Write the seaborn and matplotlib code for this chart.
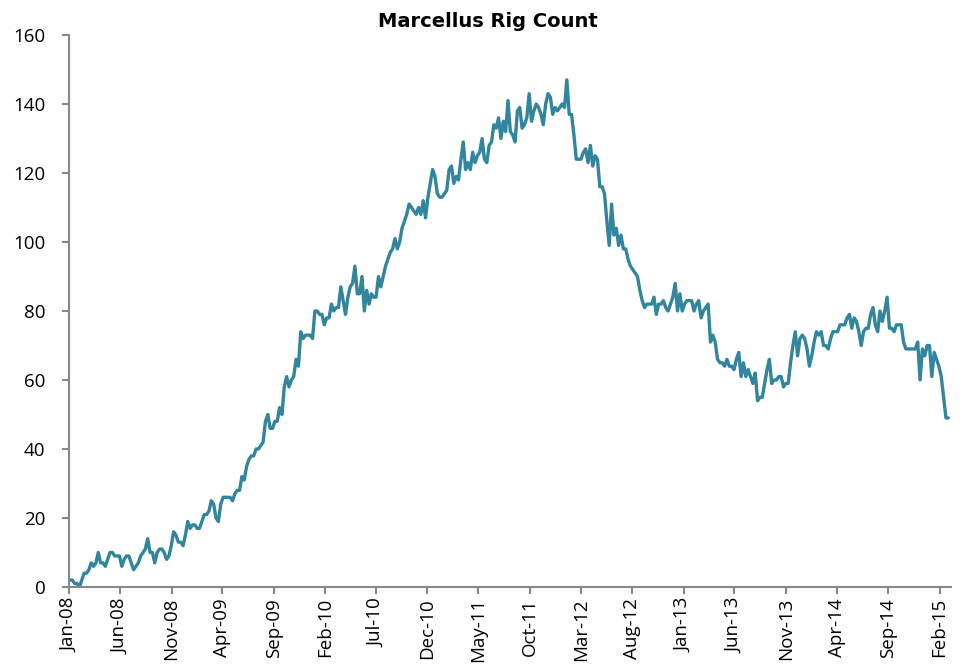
import pandas as pd
import matplotlib
matplotlib.use("Agg")
import matplotlib.pyplot as plt
import matplotlib.dates as mdates
import seaborn as sns

# Weekly Marcellus rig count (first week of Jan-08 onward)
start_date = "2008-01-04"
rig_count = [
    2, 2, 1, 1, 0, 2, 4, 4, 5, 7, 6, 7, 10,
    7, 7, 6, 8, 10, 10, 9, 9, 9, 6, 8, 9, 9,
    7, 5, 6, 7, 9, 10, 11, 14, 10, 10, 7, 10, 11,
    11, 10, 8, 9, 12, 16, 15, 13, 13, 12, 15, 19, 17,
    18, 18, 17, 17, 19, 21, 21, 22, 25, 24, 20, 19, 24,
    26, 26, 26, 26, 25, 27, 28, 28, 32, 31, 35, 37, 38,
    38, 40, 40, 41, 42, 48, 50, 46, 46, 48, 48, 52, 50,
    58, 61, 58, 60, 61, 66, 64,
    74, 72, 73, 73, 73, 72, 80, 80, 79, 79, 76, 78, 78,
    82, 80, 81, 81, 87, 83, 79, 84, 87, 88, 93, 85, 85,
    90, 80, 86, 82, 85, 84, 84, 90, 87, 90, 93, 95, 97,
    98, 101, 98, 100, 104, 106, 108, 111, 110, 109, 108, 110, 108,
    112, 107, 113, 117, 121, 119, 114, 113, 113, 114, 115, 121, 122,
    117, 119, 118, 124, 129, 121, 123, 121, 126, 123, 125, 126, 130,
    124, 123, 128, 129, 134, 133, 136, 130, 135, 132, 141, 132, 131,
    129, 138, 139, 133, 134, 136, 143, 135, 138, 140, 139, 137, 134,
    140, 143, 142, 137, 139, 138, 139, 140, 139, 147, 137, 137, 131,
    124, 124, 124, 126, 127, 123, 128, 122, 125, 124, 116, 116, 114,
    106, 99, 111, 102, 104, 99, 102, 98, 98, 95,
    93, 92, 91, 90, 86, 83, 81, 82, 82, 82, 84, 79, 82,
    82, 83, 81, 80, 82, 84, 88, 80, 85, 80, 82, 83, 83,
    83, 80, 82, 83, 78, 80, 81, 82, 71, 73, 71, 66, 65,
    65, 64, 66, 64, 64, 63, 66, 68, 61, 65, 61, 63, 61,
    59, 62, 54, 55, 55, 59, 63, 66, 59, 60, 60, 61, 61,
    58, 59, 59, 65, 70, 74, 67, 72, 73, 72, 69, 64, 67,
    71, 74, 73, 74, 70, 70, 69, 72, 74, 74, 74, 76, 76,
    76, 78, 79, 75, 78, 77, 74, 70, 74, 75, 75, 79, 81,
    76, 74, 80, 77, 80, 84, 75, 75, 74, 76, 76, 76, 71,
    69, 69, 69, 69, 69, 71, 60, 69, 67, 70, 70, 61, 68,
    66, 64, 61, 55, 49, 49,
]
y_ticks = [0, 20, 40, 60, 80, 100, 120, 140, 160]
chart_title = "Marcellus Rig Count"

df = pd.DataFrame({
    "Date": pd.date_range(start=start_date, periods=len(rig_count), freq="7D"),
    "Rigs": rig_count,
})

sns.set_style("ticks")
plt.rcParams["font.family"] = ["Open Sans", "DejaVu Sans"]
plt.rcParams["text.color"] = "black"

fig = plt.figure(figsize=(9.66, 6.64), dpi=100)
ax = fig.add_axes([69 / 966, 1 - 587 / 664, (951 - 69) / 966, (587 - 35) / 664])

sns.lineplot(data=df, x="Date", y="Rigs", ax=ax, color="#31859C", linewidth=2.4)

ax.set_xlim(pd.Timestamp("2008-01-01"), pd.Timestamp("2015-03-07"))
ax.set_ylim(0, 160)
ax.set_yticks(y_ticks)
tick_dates = pd.date_range("2008-01-01", "2015-02-01", freq="5MS")
ax.set_xticks(tick_dates)
ax.xaxis.set_major_formatter(mdates.DateFormatter("%b-%y"))
ax.set_xlabel("")
ax.set_ylabel("")

sns.despine(ax=ax)
for side in ["left", "bottom"]:
    ax.spines[side].set_color("#888888")
    ax.spines[side].set_linewidth(1.5)
ax.tick_params(axis="y", direction="out", length=5, width=1.5, color="#888888",
               labelsize=13.5, pad=12, labelcolor="black")
ax.tick_params(axis="x", direction="out", length=5, width=1.5, color="#888888",
               labelsize=13.5, pad=3, labelcolor="black", labelrotation=90)

fig.text(487.5 / 966, 1 - 27 / 664, chart_title, ha="center", va="baseline",
         fontsize=14, fontweight="bold", color="black", family=["DejaVu Sans"])

fig.savefig("out.png", dpi=100)
